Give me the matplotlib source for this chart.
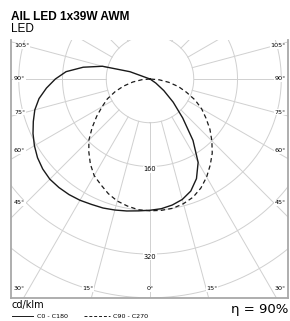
import numpy as np
import matplotlib
matplotlib.use("Agg")
from matplotlib import pyplot as plt

# photometric data, cd/klm, gamma measured from nadir
gamma = [0, 5, 10, 15, 20, 25, 30, 35, 40, 45, 50, 55, 60, 65, 70, 75, 80, 85,
         90, 95, 100, 105, 110, 115, 120]
c0 = [240, 238, 234, 228, 218, 201, 176, 137, 93, 60, 33, 13, 0, 0, 0, 0, 0, 0,
      0, 0, 0, 0, 0, 0, 0]
c180 = [240, 242, 245, 248, 251, 253, 256, 258, 259, 259, 256, 251, 244, 236, 227,
        218, 206, 190, 173, 154, 124, 90, 39, 0, 0]
c90 = [241, 241, 240, 236, 230, 220, 207, 192, 177, 160, 143, 125, 109, 91, 71,
       54, 35, 17, 0, 0, 0, 0, 0, 0, 0]
c270 = [241, 240, 236, 231, 223, 213, 204, 190, 174, 158, 138, 119, 101, 86, 68,
        50, 32, 15, 0, 0, 0, 0, 0, 0, 0]

ring_values = [80, 160, 240, 320, 400, 480]
ring_labels = ["160", "320"]
side_angles = [105, 90, 75, 60, 45]
bottom_angles = [30, 15, 0, 15, 30]

title = "AIL LED 1x39W AWM"
subtitle = "LED"
unit = "cd/klm"
eta = "η = 90%"

s = 0.547  # px per cd/klm
cx, cy = 150, 79

def px(x, y):
    # pixel position in the picture -> data coordinates
    return (x - cx) / s, -(y - cy) / s

fig = plt.figure(figsize=(2.9, 3.21), dpi=100)
ax = fig.add_axes([11 / 290, 1 - 298 / 321, 277 / 290, 258 / 321])
ax.set_xlim(-139 / s, 138 / s)
ax.set_ylim(-219 / s, 39 / s)
ax.set_xticks([])
ax.set_yticks([])
for side in ["left", "right", "bottom"]:
    ax.spines[side].set_color("#a8a8a8")
    ax.spines[side].set_linewidth(1.3)
ax.spines["top"].set_visible(False)

grid_c = "#d0d0d0"
t = np.linspace(0, 2 * np.pi, 400)
for r in ring_values:
    ax.plot(r * np.sin(t), -r * np.cos(t), color=grid_c, lw=0.7, zorder=1)
for a in range(0, 360, 15):
    ar = np.radians(a)
    ax.plot([80 * np.sin(ar), 700 * np.sin(ar)], [-80 * np.cos(ar), -700 * np.cos(ar)],
            color=grid_c, lw=0.7, zorder=1)

g = np.radians(gamma)
def curve(right, left):
    right = np.array(right, float)
    left = np.array(left, float)
    x = np.concatenate([-left[::-1] * np.sin(g[::-1]), right * np.sin(g)])
    y = np.concatenate([-left[::-1] * np.cos(g[::-1]), -right * np.cos(g)])
    return x, y

x1, y1 = curve(c0, c180)
ax.plot(x1, y1, color="#1a1a1a", lw=1.0, zorder=3)
x2, y2 = curve(c90, c270)
ax.plot(x2, y2, color="#1a1a1a", lw=0.9, ls=(0, (3.5, 2.5)), zorder=3)

box = dict(facecolor="white", edgecolor="none", pad=0.4)
for v, lab in zip([160, 320], ring_labels):
    ax.text(0, -v - 5, lab, fontsize=4.8, ha="center", va="center", bbox=box, zorder=4)

for a in side_angles:
    ypx = cy + 124 / np.tan(np.radians(a))
    xl, yl = px(14, ypx)
    ax.text(xl, yl, f"{a}°", fontsize=4.6, ha="left", va="center", bbox=box, zorder=4)
    xr, yr = px(286, ypx)
    ax.text(xr, yr, f"{a}°", fontsize=4.6, ha="right", va="center", bbox=box, zorder=4)

for a, xp, ha in zip(bottom_angles, [14, 88, 150, 212, 286],
                     ["left", "center", "center", "center", "right"]):
    xb, yb = px(xp, 289)
    ax.text(xb, yb, f"{a}°", fontsize=4.6, ha=ha, va="center", bbox=box, zorder=4)

fig.text(11 / 290, 1 - 17 / 321, title, fontsize=8.6, fontweight="bold",
         family=["Liberation Sans", "DejaVu Sans"], va="center", ha="left")
fig.text(11 / 290, 1 - 29 / 321, subtitle, fontsize=8.5,
         family=["Liberation Sans", "DejaVu Sans"], va="center", ha="left")
fig.text(11 / 290, 1 - 305 / 321, unit, fontsize=7, va="center", ha="left")
fig.text(288 / 290, 1 - 309 / 321, eta, fontsize=9.5, va="center", ha="right")

fig.lines.append(plt.Line2D([12 / 290, 33 / 290], [1 - 316 / 321] * 2,
                            transform=fig.transFigure, color="#1a1a1a", lw=0.7))
fig.text(37 / 290, 1 - 316 / 321, "C0 - C180", fontsize=4.6, va="center", ha="left")
fig.lines.append(plt.Line2D([84 / 290, 110 / 290], [1 - 316 / 321] * 2,
                            transform=fig.transFigure, color="#1a1a1a", lw=0.7,
                            ls=(0, (3, 2))))
fig.text(113 / 290, 1 - 316 / 321, "C90 - C270", fontsize=4.6, va="center", ha="left")

fig.savefig("out.png", dpi=100)
